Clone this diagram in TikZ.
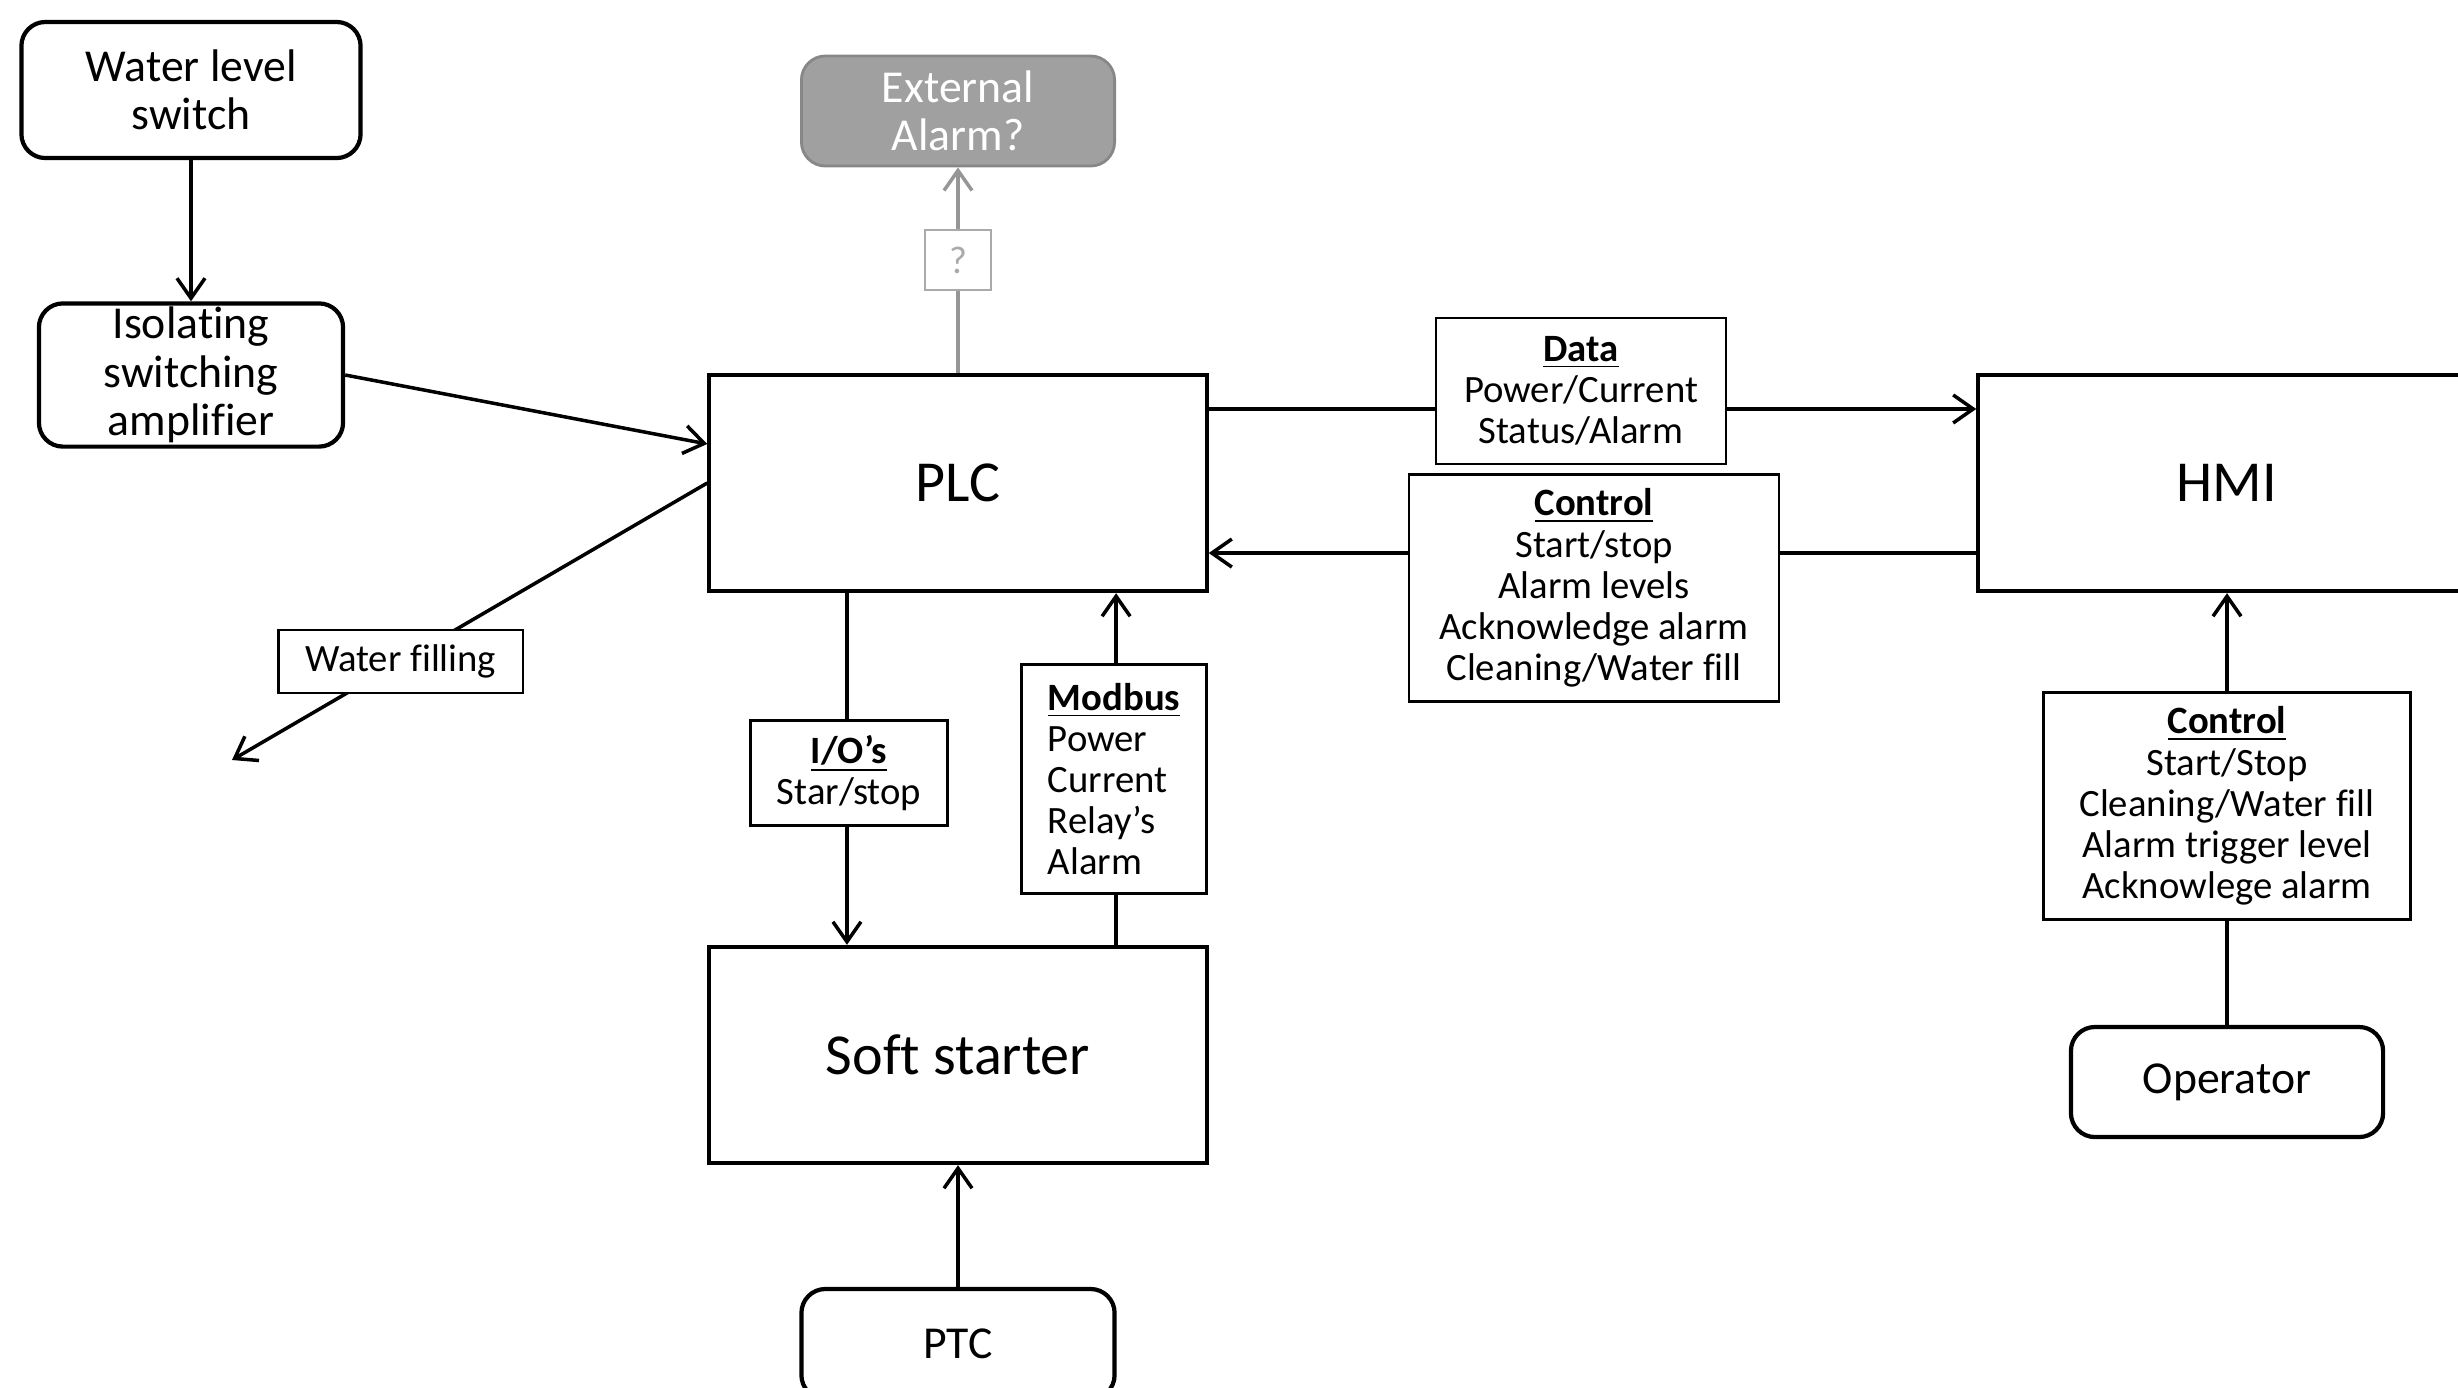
\documentclass[tikz,border=0pt]{standalone}
\usepackage{fontspec}
\setmainfont{Carlito}[Ligatures=NoCommon]
\usetikzlibrary{arrows.meta}

\definecolor{extgray}{RGB}{160,160,160}
\definecolor{extedge}{RGB}{135,135,135}
\definecolor{linegray}{RGB}{150,150,150}
\definecolor{qgray}{RGB}{170,170,170}

\tikzset{
  block/.style={draw, line width=1.2pt, minimum width=4.97cm, minimum height=2.16cm,
    font=\fontsize{16.5}{19}\selectfont},
  unit/.style={draw, line width=1.2pt, rounded corners=0.24cm, align=center, inner sep=1pt,
    font=\fontsize{13}{13.8}\selectfont},
  tag/.style={draw, line width=0.7pt, fill=white, align=center, inner sep=1pt,
    font=\fontsize{11}{11.7}\selectfont},
  flow/.style={line width=1pt, -{Straight Barb[length=2mm,width=2.8mm]}},
}
\newcommand{\hd}[1]{\underline{\textbf{#1}}}

\begin{document}
\begin{tikzpicture}[x=0.01cm, y=-0.01cm]
  \useasboundingbox (0,0) rectangle (2458,1387);

  % main blocks
  \node[block] (plc) at (958,483) {PLC};
  \node[block] (hmi) at (2227,483) {HMI};
  \node[block] (soft) at (958,1055) {Soft starter};

  % rounded units
  \node[unit, minimum width=3.39cm, minimum height=1.36cm] (wls) at (191,90) {Water level\\switch};
  \node[unit, minimum width=3.04cm, minimum height=1.41cm] (isa) at (191,375) {Isolating\\switching\\amplifier};
  \node[unit, fill=extgray, draw=extedge, line width=0.8pt, text=white,
        minimum width=3.13cm, minimum height=1.10cm] (ext) at (958,111) {External\\Alarm?};
  \node[unit, minimum width=3.13cm, minimum height=1.10cm] (ptc) at (958,1344) {PTC};
  \node[unit, minimum width=3.12cm, minimum height=1.10cm] (op) at (2227,1082) {Operator};
  \coordinate (wf) at (232,760);

  % connectors
  \draw[flow] (wls) -- (isa);
  \draw[flow] (isa.east) -- ([yshift=0.39cm]plc.west);
  \draw[flow] (plc.west) -- node[tag, pos=0.645, minimum width=2.44cm, minimum height=0.63cm] (wfill) {Water filling} (wf);
  \draw[flow, draw=linegray] (plc) -- (ext);
  \draw[flow] ([yshift=0.74cm]plc.east) -- ([yshift=0.74cm]hmi.west);
  \draw[flow] ([yshift=-0.70cm]hmi.west) -- ([yshift=-0.70cm]plc.east);
  \draw[flow] ([xshift=-1.11cm]plc.south) -- ([xshift=-1.11cm]soft.north);
  \draw[flow] ([xshift=1.58cm]soft.north) -- ([xshift=1.58cm]plc.south);
  \draw[flow] (ptc) -- (soft);
  \draw[flow] (op) -- (hmi);

  % labels on the connectors
  \node[tag, draw=qgray, text=qgray, line width=0.6pt, minimum width=0.66cm, minimum height=0.60cm] (q) at (958,260) {?};
  \node[tag, minimum width=2.90cm, minimum height=1.46cm] (data) at (1581,391)
    {\hd{Data}\\Power/Current\\Status/Alarm};
  \node[tag, minimum width=3.70cm, minimum height=2.27cm] (ctl) at (1594,588)
    {\hd{Control}\\Start/stop\\Alarm levels\\Acknowledge alarm\\Cleaning/Water fill};
  \node[tag, minimum width=1.97cm, minimum height=1.05cm] (io) at (849,773) {\hd{I/O’s}\\Star/stop};
  \node[tag, align=left, minimum width=1.85cm, minimum height=2.29cm] (mod) at (1114,779)
    {\hd{Modbus}\\Power\\Current\\Relay’s\\Alarm};
  \node[tag, minimum width=3.67cm, minimum height=2.27cm] (hctl) at (2227,806)
    {\hd{Control}\\Start/Stop\\Cleaning/Water fill\\Alarm trigger level\\Acknowlege alarm};
\end{tikzpicture}
\end{document}
